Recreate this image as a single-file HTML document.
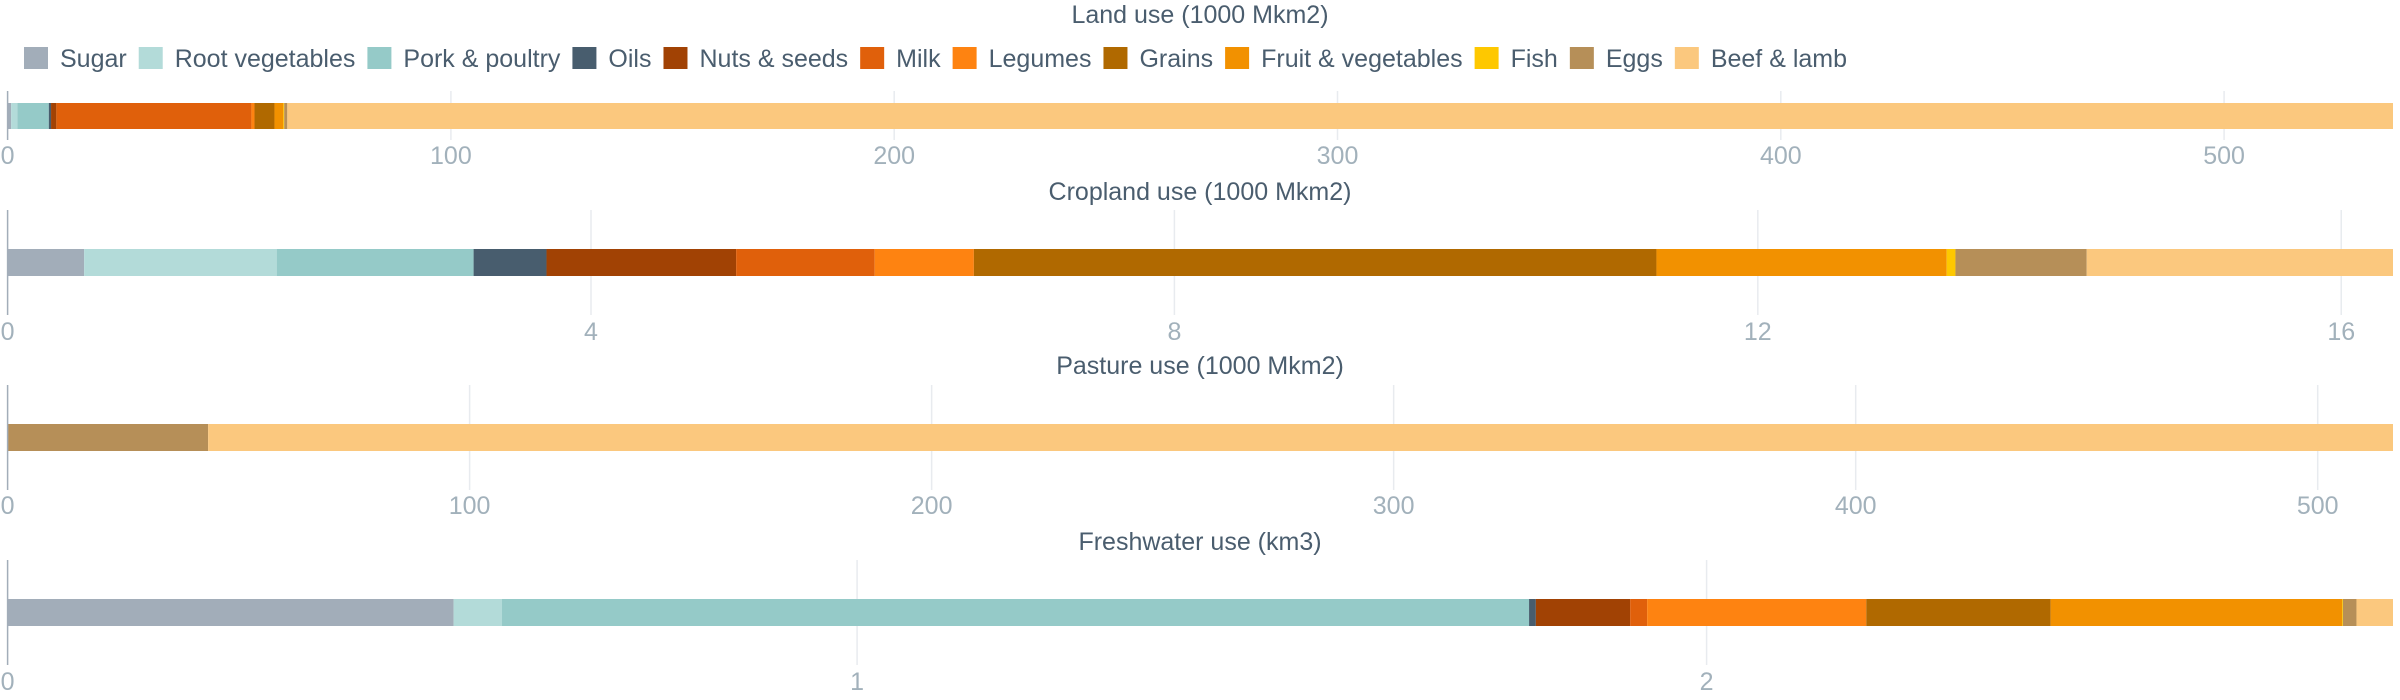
<!DOCTYPE html>
<html><head><meta charset="utf-8"><style>
html,body{margin:0;padding:0;background:#fff;width:2400px;height:700px;overflow:hidden}
svg{display:block;font-family:"Liberation Sans",sans-serif}
</style></head><body>
<svg id="chart" width="2400" height="700"></svg>
<script>
const categories = ["Sugar","Root vegetables","Pork & poultry","Oils","Nuts & seeds","Milk","Legumes","Grains","Fruit & vegetables","Fish","Eggs","Beef & lamb"];
const colors = ["#a2adb9","#b3dbd9","#95cac8","#485d6e","#a14204","#e0600b","#fe8311","#b06900","#f29100","#fec800","#b68f58","#fbc87e"];
const panelTitles = ["Land use (1000 Mkm2)","Cropland use (1000 Mkm2)","Pasture use (1000 Mkm2)","Freshwater use (km3)"];
const landValues = [0.8,1.4,7.1,0.5,1.2,44,0.7,4.5,2.0,0.2,0.7,475];
const croplandValues = [0.525,1.32,1.35,0.5,1.3,0.95,0.68,4.68,1.99,0.06,0.9,2.1];
const pastureValues = [0,0,0,0,0,0,0,0,0,0,43.4,472.9];
const freshwaterValues = [0.525,0.057,1.209,0.008,0.111,0.02,0.258,0.217,0.343,0.001,0.016,0.043];
const landTicks = [0,100,200,300,400,500];
const croplandTicks = [0,4,8,12,16];
const pastureTicks = [0,100,200,300,400,500];
const freshwaterTicks = [0,1,2];

const NS="http://www.w3.org/2000/svg";
const svg=document.getElementById('chart');
function mk(tag,attrs,parent){const e=document.createElementNS(NS,tag);for(const k in attrs)e.setAttribute(k,attrs[k]);(parent||svg).appendChild(e);return e;}

const FS=25;
const lg=mk('g',{});


let lx=24;
categories.forEach((c,i)=>{
  const g=mk('g',{},lg);
  
  
  mk('rect',{x:lx,y:47,width:24,height:22,fill:colors[i]},g);
  const t=mk('text',{x:lx+36,y:67,'font-size':FS,fill:'#4a5d6e'},g);
  t.textContent=c;
  lx+=36+t.getComputedTextLength()+12;
});

const series=[landValues,croplandValues,pastureValues,freshwaterValues];
const ticks=[landTicks,croplandTicks,pastureTicks,freshwaterTicks];
const names=['land','cropland','pasture','freshwater'];
const layout=[
 {title:23,g0:91,g1:140,b0:103,b1:129,lab:164},
 {title:200,g0:210,g1:315,b0:249,b1:276,lab:340},
 {title:374,g0:385,g1:490,b0:424,b1:451,lab:514},
 {title:550,g0:560,g1:665,b0:599,b1:626,lab:690}
];
const X0=7.6,X1=2393;
series.forEach((vals,p)=>{
  const L=layout[p];
  const total=vals.reduce((a,b)=>a+b,0);
  const sx=v=>X0+(v/total)*(X1-X0);
  const g=mk('g',{});
  
  
  const tt=mk('text',{x:1200,y:L.title,'text-anchor':'middle','font-size':FS,fill:'#4a5d6e'},g);
  
  
  tt.textContent=panelTitles[p];
  ticks[p].forEach(tv=>{
    const x=sx(tv);
    if(tv>0){
      const gl=mk('line',{x1:x,x2:x,y1:L.g0,y2:L.g1,stroke:'#e8ebef','stroke-width':1.5},g);
      
      
    }
    const tl=mk('text',{x:x,y:L.lab,'text-anchor':'middle','font-size':FS,fill:'#a2b1bb'},g);
    
    
    tl.textContent=tv;
  });
  let acc=0;
  vals.forEach((v,i)=>{
    const x=sx(acc),w=sx(acc+v)-x;acc+=v;
    if(v<=0)return;
    const r=mk('rect',{x:x,y:L.b0,width:w,height:L.b1-L.b0,fill:colors[i]},g);
    
    
  });
  const ax=mk('line',{x1:X0,x2:X0,y1:L.g0,y2:L.g1,stroke:'#a2adb9','stroke-width':1.5},g);
  
  
});
</script>
</body></html>
